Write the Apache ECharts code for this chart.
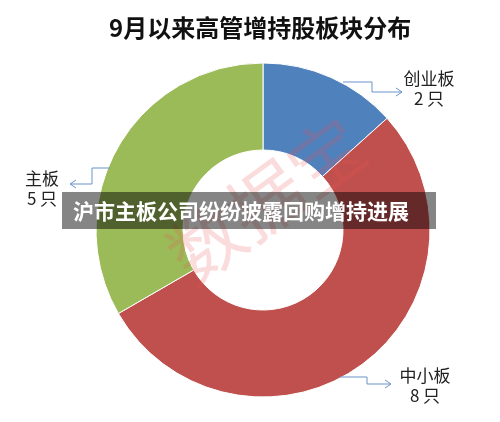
<!DOCTYPE html>
<html>
<head>
<meta charset="utf-8">
<script src="https://cdn.jsdelivr.net/npm/echarts@6/dist/echarts.min.js"></script>
<style>
  html, body { margin: 0; padding: 0; background: #fff; }
  #chart { width: 500px; height: 422px; }
</style>
</head>
<body>
<div id="chart"></div>
<script>
var boards = ['创业板', '中小板', '主板'];
var counts = [2, 8, 5];
var colors = ['#4f81bd', '#c0504d', '#9bbb59'];
var labelPos = [[429, 89], [425, 386], [42, 189]];

var FONT = '"Noto Sans CJK SC", "Noto Sans", sans-serif';
var LINE = '#6a93c8';

var mychart = echarts.init(document.getElementById('chart'));

// elbow connectors with small arrow heads
function connector(pts, dir) {
    var end = pts[pts.length - 1];
    var d = dir === 'left' ? 1 : -1;
    return [
        { type: 'polyline', z: 50, shape: { points: pts }, style: { stroke: LINE, lineWidth: 1, fill: null } },
        { type: 'polyline', z: 50, shape: { points: [[end[0] + 6 * d, end[1] - 4], end, [end[0] + 6 * d, end[1] + 4]] },
          style: { stroke: LINE, lineWidth: 1, fill: null } }
    ];
}

var graphics = []
    .concat(connector([[343, 82], [372, 82], [372, 92], [402, 92]], 'right'))
    .concat(connector([[340, 377], [367, 377], [367, 384], [391, 384]], 'right'))
    .concat(connector([[110, 168], [92, 168], [92, 184], [70, 184]], 'left'));

graphics.push({
    type: 'text', z: 80, x: 266, y: 200, rotation: Math.PI / 180 * 36,
    style: { text: '数据宝', font: '74px ' + FONT, fill: 'rgba(235,80,80,0.2)', align: 'center', verticalAlign: 'middle' }
});
graphics.push({
    type: 'rect', z: 90, shape: { x: 62, y: 192, width: 374, height: 37 },
    style: { fill: 'rgba(0,0,0,0.48)' }
});
graphics.push({
    type: 'text', z: 91, x: 73, y: 211,
    style: { text: '沪市主板公司纷纷披露回购增持进展', font: 'bold 21px ' + FONT, fill: '#fff', verticalAlign: 'middle' }
});

mychart.setOption({
    color: colors,
    title: {
        text: '9月以来高管增持股板块分布',
        left: 104,
        top: 11,
        textStyle: {
            fontFamily: FONT,
            fontWeight: 'bold',
            fontSize: 24,
            color: '#111'
        }
    },
    series: [
        {
            type: 'pie',
            center: [263, 230],
            radius: [80, 167],
            startAngle: 90,
            clockwise: true,
            animation: false,
            itemStyle: {
                borderColor: '#fff',
                borderWidth: 1
            },
            label: {
                show: true,
                formatter: '{b}\n{c} 只',
                fontFamily: FONT,
                fontSize: 17,
                lineHeight: 20,
                color: '#222',
                align: 'center'
            },
            labelLine: { show: false },
            labelLayout: function (params) {
                var p = labelPos[params.dataIndex];
                return { x: p[0], y: p[1], align: 'center', verticalAlign: 'middle' };
            },
            data: boards.map(function (b, i) {
                return { name: b, value: counts[i] };
            })
        }
    ],
    graphic: graphics
});
</script>
</body>
</html>
